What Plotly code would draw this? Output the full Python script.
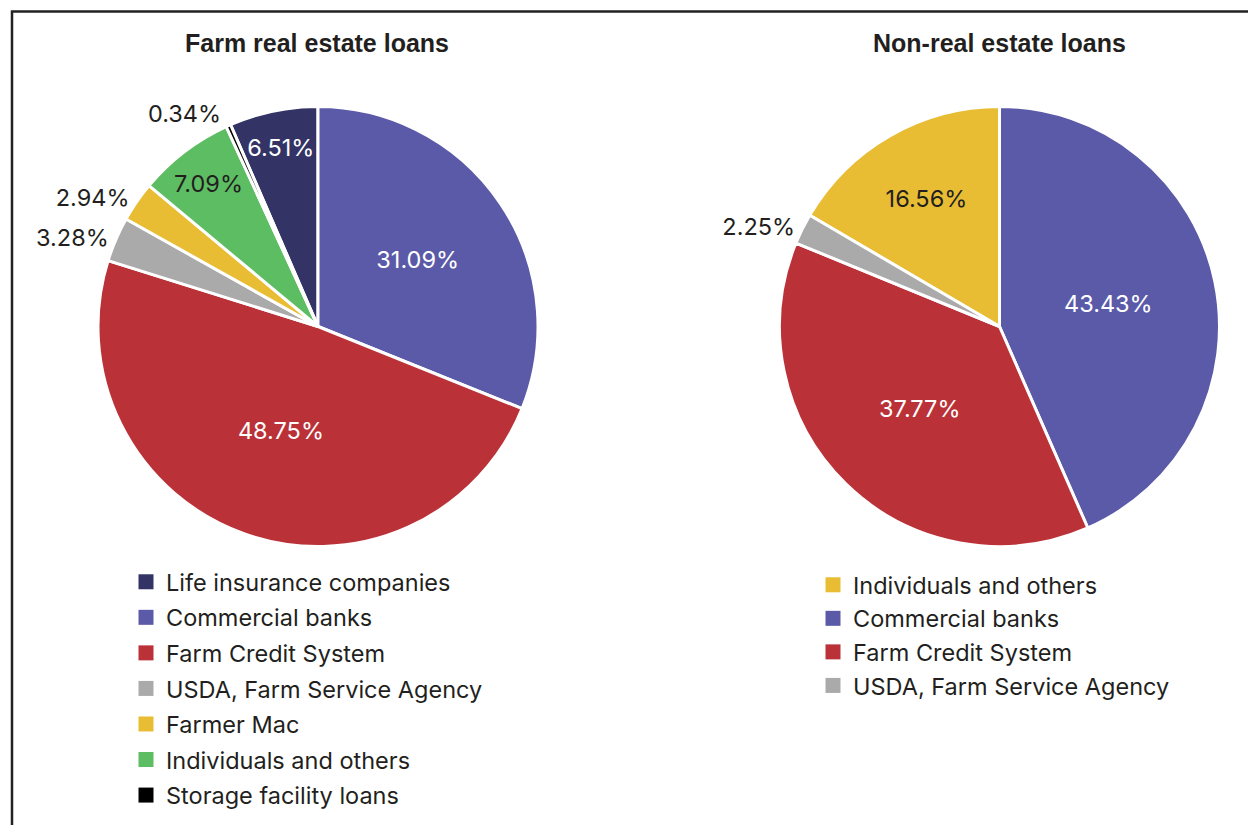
import plotly.graph_objects as go

# Farm real estate loans, share of debt by lender (%)
re_lenders = ["Life insurance companies", "Commercial banks", "Farm Credit System",
              "USDA, Farm Service Agency", "Farmer Mac", "Individuals and others",
              "Storage facility loans"]
re_shares = [6.51, 31.09, 48.75, 3.28, 2.94, 7.09, 0.34]

# Non-real estate loans, share of debt by lender (%)
nre_lenders = ["Individuals and others", "Commercial banks", "Farm Credit System",
               "USDA, Farm Service Agency"]
nre_shares = [16.56, 43.43, 37.77, 2.25]

colors = {
    "Life insurance companies": "#333366",
    "Commercial banks": "#5a5aa8",
    "Farm Credit System": "#bb3138",
    "USDA, Farm Service Agency": "#aaaaaa",
    "Farmer Mac": "#e8bd33",
    "Individuals and others": "#5dbd62",
    "Storage facility loans": "#000000",
}
nre_colors = {
    "Individuals and others": "#e8bd33",
    "Commercial banks": "#5a5aa8",
    "Farm Credit System": "#bb3138",
    "USDA, Farm Service Agency": "#aaaaaa",
}

W, H = 1248, 825
LABEL_FONT = "Inter, 'Open Sans', sans-serif"
TITLE_FONT = "'Liberation Sans', Arial, sans-serif"
DARK = "#231f20"
LIGHT_SLICES = {"#e8bd33", "#5dbd62", "#aaaaaa"}


def px_x(v):
    return v / W


def px_y(v):
    return 1 - v / H


def pie_trace(labels, values, cmap, domain_px):
    cols = [cmap[l] for l in labels]
    positions = ["inside" if v >= 5 else "outside" for v in values]
    inside_cols = [DARK if c in LIGHT_SLICES else "white" for c in cols]
    # first listed slice ends at 12 o'clock when drawn clockwise
    rotation = -values[0] / sum(values) * 360
    x0, x1, ytop, ybot = domain_px
    return go.Pie(
        labels=labels, values=values, sort=False, direction="clockwise",
        rotation=rotation, showlegend=False,
        marker=dict(colors=cols, line=dict(color="white", width=3)),
        texttemplate="%{value:.2f}%", textposition=positions,
        insidetextorientation="horizontal",
        insidetextfont=dict(family=LABEL_FONT, size=23.5, color=inside_cols),
        outsidetextfont=dict(family=LABEL_FONT, size=23.5, color=DARK),
        domain=dict(x=[px_x(x0), px_x(x1)], y=[px_y(ybot), px_y(ytop)]),
        hoverinfo="label+percent",
    )


fig = go.Figure()
fig.add_trace(pie_trace(re_lenders, re_shares, colors, (98, 538, 106.5, 546.5)))
fig.add_trace(pie_trace(nre_lenders, nre_shares, nre_colors, (779.5, 1219.5, 106.5, 546.5)))

# legend swatches (square markers, no data drawn on the hidden axes)
for i, lab in enumerate(re_lenders):
    fig.add_trace(go.Scatter(x=[None], y=[None], mode="markers", name=lab,
                             marker=dict(symbol="square", size=15, color=colors[lab]),
                             legend="legend", legendgroup=f"a{i}", hoverinfo="skip"))
for i, lab in enumerate(nre_lenders):
    fig.add_trace(go.Scatter(x=[None], y=[None], mode="markers", name=lab,
                             marker=dict(symbol="square", size=15, color=nre_colors[lab]),
                             legend="legend2", legendgroup=f"b{i}", hoverinfo="skip"))

legend_style = dict(font=dict(family=LABEL_FONT, size=23.5, color=DARK),
                    bgcolor="rgba(0,0,0,0)", xanchor="left", yanchor="top",
                    traceorder="grouped", itemclick=False, itemdoubleclick=False)

fig.update_layout(
    width=W, height=H,
    margin=dict(l=0, r=0, t=0, b=0),
    paper_bgcolor="white", plot_bgcolor="white",
    xaxis=dict(visible=False), yaxis=dict(visible=False),
    legend=dict(x=px_x(126), y=px_y(560), tracegroupgap=2, **legend_style),
    legend2=dict(x=px_x(813), y=px_y(563), tracegroupgap=0, **legend_style),
    annotations=[
        dict(text="<b>Farm real estate loans</b>", x=px_x(317), y=px_y(43),
             xref="paper", yref="paper", showarrow=False,
             xanchor="center", yanchor="middle",
             font=dict(family=TITLE_FONT, size=25, color=DARK)),
        dict(text="<b>Non-real estate loans</b>", x=px_x(999), y=px_y(43),
             xref="paper", yref="paper", showarrow=False,
             xanchor="center", yanchor="middle",
             font=dict(family=TITLE_FONT, size=25, color=DARK)),
    ],
    shapes=[
        dict(type="rect", xref="paper", yref="paper",
             x0=px_x(12), x1=1.05, y0=-0.05, y1=px_y(11.5),
             line=dict(color="#222222", width=2.5), fillcolor="rgba(0,0,0,0)"),
    ],
)

fig.write_html("out.html")
